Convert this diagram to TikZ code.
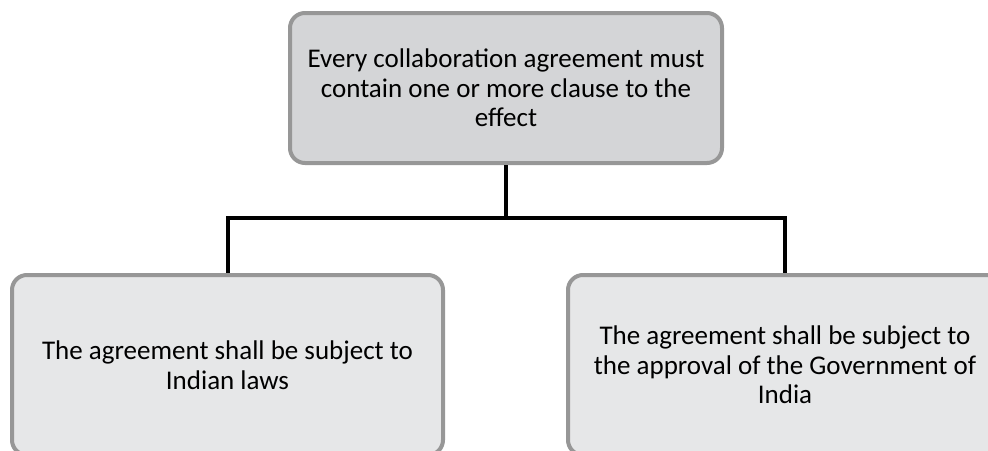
\documentclass[tikz,border=0pt]{standalone}
\usepackage{fontspec}
\setmainfont{Carlito}
\definecolor{topfill}{HTML}{D4D5D7}
\definecolor{boxfill}{HTML}{E6E7E8}
\definecolor{boxline}{HTML}{979797}
\begin{document}
\begin{tikzpicture}[x=1pt,y=-1pt,
  box/.style={draw=boxline, line width=4pt, rounded corners=15pt, fill=boxfill,
    align=flush center, inner sep=0pt, font=\fontsize{27}{29.5}\selectfont},
  link/.style={draw=black, line width=4pt}]
\clip (0,0) rectangle (988,450);
\useasboundingbox (0,0) rectangle (988,450);
\node[box, fill=topfill, minimum width=432pt, minimum height=150pt, text width=420pt] (top) at (506,88)
  {Every collaboration agreement must contain one or more clause to the effect};
\node[box, minimum width=431pt, minimum height=180pt, text width=395pt] (left) at (227.5,365)
  {The agreement shall be subject to Indian laws};
\node[box, minimum width=434pt, minimum height=180pt, text width=395pt] (right) at (785,365)
  {The agreement shall be subject to the approval of the Government of India};
\coordinate (j) at (506,218);
\draw[link] (top.south) -- (j);
\draw[link] (j) -| (left.north);
\draw[link] (j) -| (right.north);
\end{tikzpicture}
\end{document}
